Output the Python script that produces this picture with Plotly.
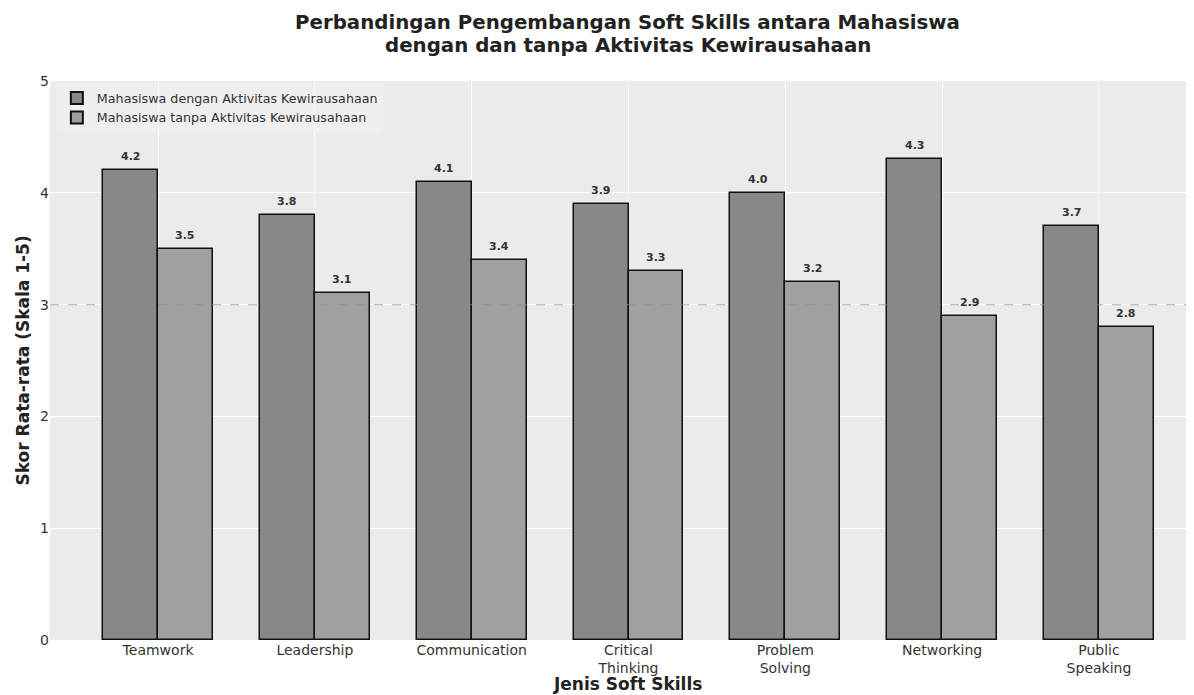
import plotly.graph_objects as go

categories = ["Teamwork", "Leadership", "Communication", "Critical<br>Thinking",
              "Problem<br>Solving", "Networking", "Public<br>Speaking"]
with_ent = [4.2, 3.8, 4.1, 3.9, 4.0, 4.3, 3.7]
without_ent = [3.5, 3.1, 3.4, 3.3, 3.2, 2.9, 2.8]
series_names = ["Mahasiswa dengan Aktivitas Kewirausahaan",
                "Mahasiswa tanpa Aktivitas Kewirausahaan"]
title_lines = ["Perbandingan Pengembangan Soft Skills antara Mahasiswa",
               "dengan dan tanpa Aktivitas Kewirausahaan"]
x_title = "Jenis Soft Skills"
y_title = "Skor Rata-rata (Skala 1-5)"

FONT = "DejaVu Sans"
W = 0.35
idx = list(range(len(categories)))

fig = go.Figure()
fig.add_trace(go.Bar(x=idx, y=with_ent, width=W, offset=-W, name=series_names[0],
                     marker=dict(color="#888888", line=dict(color="#111111", width=1.5))))
fig.add_trace(go.Bar(x=idx, y=without_ent, width=W, offset=0, name=series_names[1],
                     marker=dict(color="#a0a0a0", line=dict(color="#111111", width=1.5))))

for i, v in enumerate(with_ent):
    fig.add_annotation(x=i - W / 2, y=v, text=f"<b>{v:.1f}</b>", showarrow=False,
                       yanchor="bottom", yshift=5, font=dict(size=11, color="#333333", family=FONT))
for i, v in enumerate(without_ent):
    fig.add_annotation(x=i + W / 2, y=v, text=f"<b>{v:.1f}</b>", showarrow=False,
                       yanchor="bottom", yshift=5, font=dict(size=11, color="#333333", family=FONT))

# title lines
fig.add_annotation(xref="paper", yref="paper", x=0.505, y=1, yshift=59, yanchor="middle",
                   text=f"<b>{title_lines[0]}</b>", showarrow=False,
                   font=dict(size=19.8, color="#222222", family=FONT))
fig.add_annotation(xref="paper", yref="paper", x=0.505, y=1, yshift=36, yanchor="middle",
                   text=f"<b>{title_lines[1]}</b>", showarrow=False,
                   font=dict(size=19.8, color="#222222", family=FONT))
# axis titles
fig.add_annotation(xref="paper", yref="paper", x=0.505, y=0, yshift=-44, yanchor="middle",
                   text=f"<b>{x_title}</b>", showarrow=False,
                   font=dict(size=17, color="#222222", family=FONT))
fig.add_annotation(xref="paper", yref="paper", x=0, xshift=-28, y=0.5, textangle=-90,
                   xanchor="center", yanchor="middle",
                   text=f"<b>{y_title}</b>", showarrow=False,
                   font=dict(size=17, color="#222222", family=FONT))

fig.add_shape(type="line", xref="paper", x0=0, x1=1, yref="y", y0=3, y1=3,
              line=dict(color="rgba(140,140,140,0.55)", width=1.2, dash="dash"), layer="above")

fig.update_layout(
    width=1186, height=687,
    margin=dict(l=42, r=0, t=73, b=55, autoexpand=False),
    paper_bgcolor="white",
    plot_bgcolor="#ebebeb",
    font=dict(family=FONT, color="#333333"),
    showlegend=True,
    legend=dict(x=0.006, y=0.996, xanchor="left", yanchor="top",
                bgcolor="rgba(242,242,242,0.6)", borderwidth=0,
                font=dict(size=12.7, color="#333333", family=FONT),
                itemsizing="constant", traceorder="normal"),
    bargap=0,
    xaxis=dict(range=[-0.689, 6.606], tickmode="array", tickvals=idx, ticktext=categories,
               showgrid=True, gridcolor="white", gridwidth=1, zeroline=False, automargin=False,
               ticks="", tickfont=dict(size=14, color="#333333")),
    yaxis=dict(range=[0, 5], tickvals=[0, 1, 2, 3, 4, 5], showgrid=True, gridcolor="white",
               gridwidth=1, zeroline=False, ticks="", automargin=False,
               tickfont=dict(size=14, color="#333333")),
)

fig.write_html("out.html")
